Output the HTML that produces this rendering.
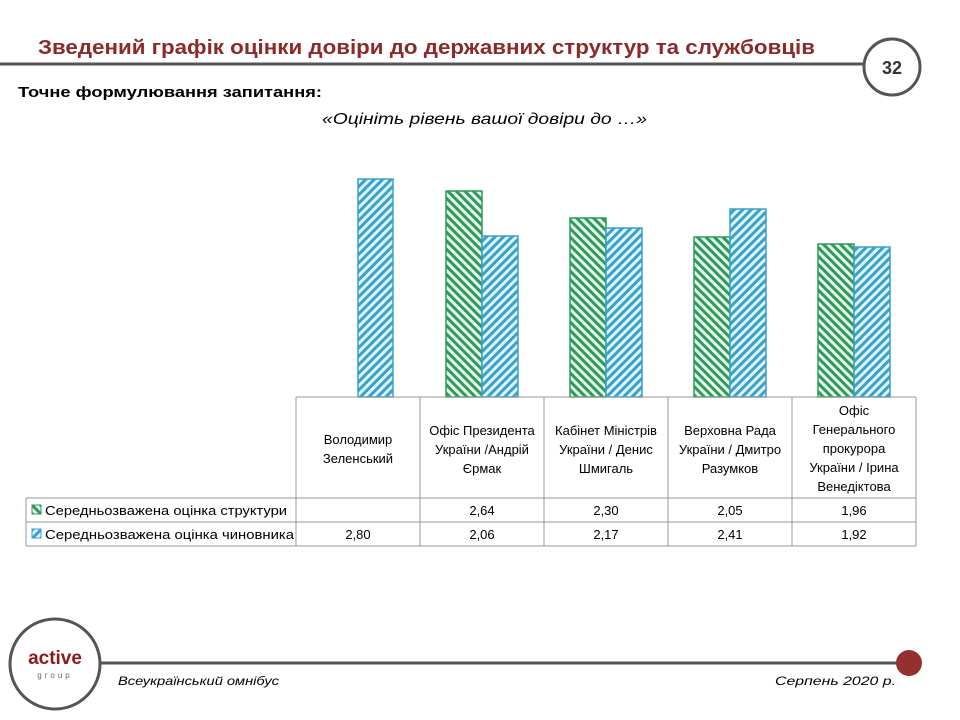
<!DOCTYPE html>
<html><head><meta charset="utf-8"><style>
body{margin:0;width:960px;height:720px;background:#fff;overflow:hidden;position:relative;font-family:"Liberation Sans",sans-serif}
.a{position:absolute}
</style></head><body>
<svg class="a" style="left:0;top:0" width="960" height="720">
<defs>
<pattern id="pb" width="6" height="6" patternUnits="userSpaceOnUse" patternTransform="rotate(45)"><rect width="6" height="6" fill="#dff7fb"/><rect width="3" height="6" fill="#3aa0cc"/></pattern>
<pattern id="pg" width="6" height="6" patternUnits="userSpaceOnUse" patternTransform="rotate(-45)"><rect width="6" height="6" fill="#e6f8ec"/><rect width="3" height="6" fill="#2e9a5a"/></pattern>
</defs>
<line x1="0" y1="64" x2="866" y2="64" stroke="#555" stroke-width="3"/>
<circle cx="892" cy="67" r="28" fill="#fff" stroke="#555" stroke-width="3"/>
<text x="892" y="74" font-size="18" font-weight="bold" text-anchor="middle" fill="#333">32</text>
<text x="38" y="54" font-size="20" font-weight="bold" fill="#8b2a2a" textLength="777" lengthAdjust="spacingAndGlyphs">Зведений графік оцінки довіри до державних структур та службовців</text>
<text x="18" y="97" font-size="15" font-weight="bold" fill="#000" textLength="304" lengthAdjust="spacingAndGlyphs">Точне формулювання  запитання:</text>
<text x="322" y="124" font-size="16" font-style="italic" fill="#000" textLength="325" lengthAdjust="spacingAndGlyphs">«Оцініть рівень вашої довіри до …»</text>
<g stroke-width="1.5">
<rect x="358" y="179" width="35" height="218" fill="url(#pb)" stroke="#3aa0cc"/>
<rect x="446" y="191" width="36" height="206" fill="url(#pg)" stroke="#2e9a5a"/>
<rect x="482" y="236" width="36" height="161" fill="url(#pb)" stroke="#3aa0cc"/>
<rect x="570" y="218" width="36" height="179" fill="url(#pg)" stroke="#2e9a5a"/>
<rect x="606" y="228" width="36" height="169" fill="url(#pb)" stroke="#3aa0cc"/>
<rect x="694" y="237" width="36" height="160" fill="url(#pg)" stroke="#2e9a5a"/>
<rect x="730" y="209" width="36" height="188" fill="url(#pb)" stroke="#3aa0cc"/>
<rect x="818" y="244" width="36" height="153" fill="url(#pg)" stroke="#2e9a5a"/>
<rect x="854" y="247" width="36" height="150" fill="url(#pb)" stroke="#3aa0cc"/>
</g>
<g stroke="#999" stroke-width="1">
<line x1="296" y1="397" x2="916" y2="397"/>
<line x1="26" y1="498" x2="916" y2="498"/>
<line x1="26" y1="522" x2="916" y2="522"/>
<line x1="26" y1="546" x2="916" y2="546"/>
<line x1="26" y1="498" x2="26" y2="546"/>
<line x1="296" y1="397" x2="296" y2="546"/>
<line x1="420" y1="397" x2="420" y2="546"/>
<line x1="544" y1="397" x2="544" y2="546"/>
<line x1="668" y1="397" x2="668" y2="546"/>
<line x1="792" y1="397" x2="792" y2="546"/>
<line x1="916" y1="397" x2="916" y2="546"/>
</g>
<g font-size="13" text-anchor="middle" fill="#000">
<text x="358" y="444">Володимир</text><text x="358" y="463">Зеленський</text>
<text x="482" y="435">Офіс Президента</text><text x="482" y="454">України /Андрій</text><text x="482" y="473">Єрмак</text>
<text x="606" y="435">Кабінет Міністрів</text><text x="606" y="454">України / Денис</text><text x="606" y="473">Шмигаль</text>
<text x="730" y="435">Верховна Рада</text><text x="730" y="454">України / Дмитро</text><text x="730" y="473">Разумков</text>
<text x="854" y="415">Офіс</text><text x="854" y="434">Генерального</text><text x="854" y="453">прокурора</text><text x="854" y="472">України / Ірина</text><text x="854" y="491">Венедіктова</text>
<text x="482" y="515">2,64</text><text x="606" y="515">2,30</text><text x="730" y="515">2,05</text><text x="854" y="515">1,96</text>
<text x="358" y="539">2,80</text><text x="482" y="539">2,06</text><text x="606" y="539">2,17</text><text x="730" y="539">2,41</text><text x="854" y="539">1,92</text>
</g>
<rect x="32" y="505" width="9" height="9" fill="url(#pg)" stroke="#2e9a5a"/>
<rect x="32" y="529" width="9" height="9" fill="url(#pb)" stroke="#3aa0cc"/>
<text x="45" y="515" font-size="13" fill="#000" textLength="242" lengthAdjust="spacingAndGlyphs">Середньозважена оцінка структури</text>
<text x="45" y="539" font-size="13" fill="#000" textLength="249" lengthAdjust="spacingAndGlyphs">Середньозважена оцінка чиновника</text>
<line x1="100" y1="663" x2="900" y2="663" stroke="#555" stroke-width="3"/>
<circle cx="909" cy="663" r="13" fill="#943030"/>
<circle cx="55" cy="664" r="45" fill="#fff" stroke="#555" stroke-width="3"/>
<text x="55" y="664" font-size="19" font-weight="bold" text-anchor="middle" fill="#8b1a1a">active</text>
<text x="55" y="678" font-size="8" text-anchor="middle" fill="#666" letter-spacing="3">group</text>
<text x="118" y="685" font-size="12" font-style="italic" fill="#000" textLength="161" lengthAdjust="spacingAndGlyphs">Всеукраїнський омнібус</text>
<text x="775" y="685" font-size="12" font-style="italic" fill="#000" textLength="121" lengthAdjust="spacingAndGlyphs">Серпень 2020 р.</text>
</svg>
</body></html>
